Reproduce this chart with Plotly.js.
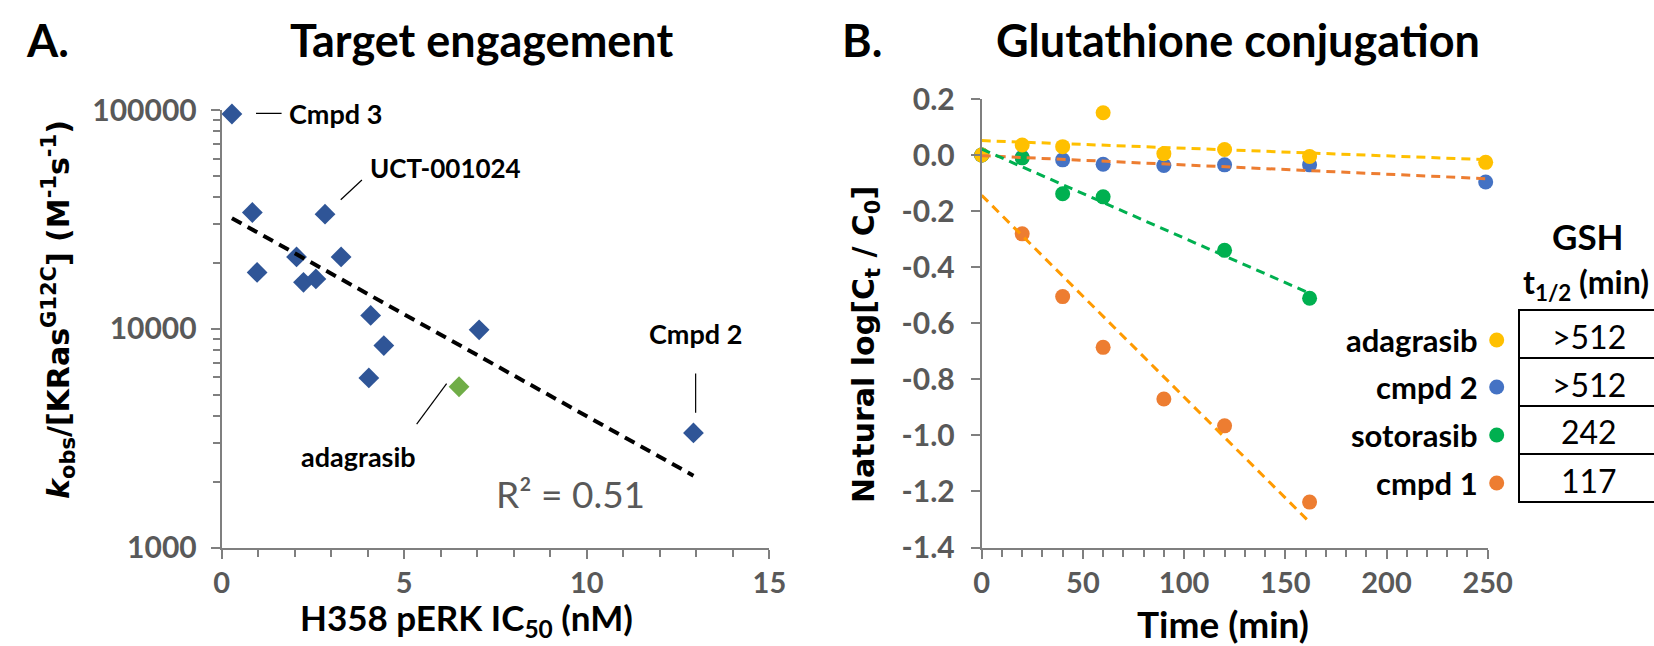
<!DOCTYPE html>
<html>
<head>
<meta charset="utf-8">
<script src="https://cdn.plot.ly/plotly-3.0.1.min.js"></script>
<style>
html,body{margin:0;padding:0;background:#fff;}
#chart{width:1654px;height:646px;}
</style>
</head>
<body>
<div id="chart"></div>
<script>
// ---------- Panel A data: target engagement ----------
const compoundIC50 = [0.28, 0.84, 0.97, 2.05, 2.24, 2.58, 2.83, 3.27, 4.08, 4.44, 4.03, 7.05, 12.92];
const compoundKobs = [95900, 34000, 18100, 21300, 16300, 16900, 33400, 21300, 11500, 8380, 5960, 9890, 3340];
const adagrasibIC50 = [6.5];
const adagrasibKobs = [5430];
const r2Label = 'R\u00b2 = 0.51';
const xTicksA = [0, 5, 10, 15];
const yTicksA = [1000, 10000, 100000];
const yMinorA = [2000, 3000, 4000, 5000, 6000, 7000, 8000, 9000, 20000, 30000, 40000, 50000, 60000, 70000, 80000, 90000];

// ---------- Panel B data: glutathione conjugation ----------
const seriesNames = ['adagrasib', 'cmpd 2', 'sotorasib', 'cmpd 1'];
const timeAdagrasib = [0, 20, 40, 60, 90, 120, 162, 249];
const lnAdagrasib = [0, 0.036, 0.030, 0.151, 0.005, 0.020, -0.005, -0.026];
const timeCmpd2 = [0, 20, 40, 60, 90, 120, 162, 249];
const lnCmpd2 = [0, -0.008, -0.017, -0.033, -0.037, -0.035, -0.035, -0.096];
const timeSotorasib = [0, 20, 40, 60, 120, 162];
const lnSotorasib = [0, -0.010, -0.138, -0.149, -0.340, -0.511];
const timeCmpd1 = [0, 20, 40, 60, 90, 120, 162];
const lnCmpd1 = [0, -0.281, -0.505, -0.686, -0.870, -0.966, -1.238];
const gshHalfLife = ['>512', '>512', '242', '117'];
const xTicksB = [0, 50, 100, 150, 200, 250];
const yTicksB = [0.2, 0.0, -0.2, -0.4, -0.6, -0.8, -1.0, -1.2, -1.4];

// ---------- styles ----------
const markerColors = ['#FFC000', '#4472C4', '#00B050', '#ED7D31'];
const trendColors = ['#FFC000', '#ED7D31', '#00B050', '#FF9A00'];
const FONT = 'Lato, sans-serif';
const AXFONT = 'DejaVu Sans, Verdana, sans-serif';
const GREY = '#595959';
const AXCOL = '#7F7F7F';
const W = 1654, H = 646;
const px = v => v / W, py = v => 1 - v / H;

function linFit(xs, ys) {
  const n = xs.length;
  let sx = 0, sy = 0, sxx = 0, sxy = 0;
  for (let i = 0; i < n; i++) { sx += xs[i]; sy += ys[i]; sxx += xs[i]*xs[i]; sxy += xs[i]*ys[i]; }
  const m = (n*sxy - sx*sy) / (n*sxx - sx*sx);
  return {m: m, b: (sy - m*sx)/n};
}

const traces = [];

// Panel A scatter
traces.push({
  x: compoundIC50, y: compoundKobs, xaxis: 'x', yaxis: 'y', type: 'scatter', mode: 'markers',
  marker: {symbol: 'diamond', size: 16, color: '#2F5597'}, cliponaxis: false, hoverinfo: 'skip'
});
traces.push({
  x: adagrasibIC50, y: adagrasibKobs, xaxis: 'x', yaxis: 'y', type: 'scatter', mode: 'markers',
  marker: {symbol: 'diamond', size: 16, color: '#70AD47'}, cliponaxis: false, hoverinfo: 'skip'
});
// exponential trendline (linear fit on log10 scale) over all compounds
(function() {
  const xs = compoundIC50.concat(adagrasibIC50);
  const ys = compoundKobs.concat(adagrasibKobs).map(v => Math.log10(v));
  const f = linFit(xs, ys);
  const x0 = Math.min.apply(null, xs), x1 = Math.max.apply(null, xs);
  traces.push({
    x: [x0, x1], y: [Math.pow(10, f.b + f.m*x0), Math.pow(10, f.b + f.m*x1)],
    xaxis: 'x', yaxis: 'y', type: 'scatter', mode: 'lines',
    line: {color: '#000', width: 4, dash: '11px,7px'}, hoverinfo: 'skip'
  });
})();

// Panel B scatter (Excel stacking order), trendlines on top
const bTimes = [timeAdagrasib, timeCmpd2, timeSotorasib, timeCmpd1];
const bVals = [lnAdagrasib, lnCmpd2, lnSotorasib, lnCmpd1];
[3, 1, 2, 0].forEach(i => {
  traces.push({
    x: bTimes[i], y: bVals[i], xaxis: 'x2', yaxis: 'y2', type: 'scatter', mode: 'markers',
    name: seriesNames[i], marker: {size: 15, color: markerColors[i]}, cliponaxis: false, hoverinfo: 'skip'
  });
});
[0, 1, 2, 3].forEach(i => {
  const f = linFit(bTimes[i], bVals[i]);
  const t0 = Math.min.apply(null, bTimes[i]), t1 = Math.max.apply(null, bTimes[i]);
  traces.push({
    x: [t0, t1], y: [f.b + f.m*t0, f.b + f.m*t1], xaxis: 'x2', yaxis: 'y2', type: 'scatter', mode: 'lines',
    line: {color: trendColors[i], width: 3, dash: '9px,6px'}, cliponaxis: false, hoverinfo: 'skip'
  });
});

const tickFontBold = (sz) => ({family: FONT, size: sz, color: GREY, weight: 'bold'});
const TITLE_SIZE = 45;

const annotations = [
  {text: '<b>A.</b>', xref: 'paper', yref: 'paper', x: px(47), y: py(40), showarrow: false, xanchor: 'center', yanchor: 'middle', font: {family: FONT, size: TITLE_SIZE, color: '#000'}},
  {text: '<b>Target engagement</b>', xref: 'paper', yref: 'paper', x: px(482), y: py(40), showarrow: false, xanchor: 'center', yanchor: 'middle', font: {family: FONT, size: TITLE_SIZE, color: '#000'}},
  {text: '<b>B.</b>', xref: 'paper', yref: 'paper', x: px(862), y: py(40), showarrow: false, xanchor: 'center', yanchor: 'middle', font: {family: FONT, size: TITLE_SIZE, color: '#000'}},
  {text: '<b>Glutathione conjugation</b>', xref: 'paper', yref: 'paper', x: px(1238), y: py(40), showarrow: false, xanchor: 'center', yanchor: 'middle', font: {family: FONT, size: TITLE_SIZE, color: '#000'}},
  // axis titles
  {text: '<b>H358 pERK IC<sub>50</sub> (nM)</b>', xref: 'paper', yref: 'paper', x: px(466), y: py(645), showarrow: false, xanchor: 'center', yanchor: 'bottom', font: {family: FONT, size: 35, color: '#000'}},
  {text: '<b>Time (min)</b>', xref: 'paper', yref: 'paper', x: px(1223), y: py(623), showarrow: false, xanchor: 'center', yanchor: 'middle', font: {family: FONT, size: 37, color: '#000'}},
  {text: '<b><i>k</i><sub>obs</sub>/[KRas<sup>G12C</sup>] (M<sup>-1</sup>s<sup>-1</sup>)</b>', xref: 'paper', yref: 'paper', x: px(58), y: py(310), textangle: -90, showarrow: false, xanchor: 'center', yanchor: 'middle', font: {family: AXFONT, size: 30, color: '#000'}},
  {text: '<b>Natural log[C<sub>t</sub> / C<sub>0</sub>]</b>', xref: 'paper', yref: 'paper', x: px(866), y: py(345), textangle: -90, showarrow: false, xanchor: 'center', yanchor: 'middle', font: {family: AXFONT, size: 30, color: '#000'}},
  // point labels panel A
  {text: '<b>Cmpd 3</b>', xref: 'x', yref: 'y', x: 1.80, y: 4.985, showarrow: false, xanchor: 'left', yanchor: 'middle', font: {family: FONT, size: 27, color: '#000'}},
  {text: '<b>UCT-001024</b>', xref: 'x', yref: 'y', x: 4.02, y: 4.733, showarrow: false, xanchor: 'left', yanchor: 'middle', font: {family: FONT, size: 26, color: '#000'}},
  {text: '<b>Cmpd 2</b>', xref: 'x', yref: 'y', x: 12.98, y: 3.979, showarrow: false, xanchor: 'center', yanchor: 'middle', font: {family: FONT, size: 27, color: '#000'}},
  {text: '<b>adagrasib</b>', xref: 'x', yref: 'y', x: 3.76, y: 3.415, showarrow: false, xanchor: 'center', yanchor: 'middle', font: {family: FONT, size: 27, color: '#000'}},
  {text: r2Label, xref: 'x', yref: 'y', x: 9.54, y: 3.249, showarrow: false, xanchor: 'center', yanchor: 'middle', font: {family: FONT, size: 37, color: GREY}},
  // table header
  {text: '<b>GSH</b>', xref: 'paper', yref: 'paper', x: px(1588), y: py(236), showarrow: false, xanchor: 'center', yanchor: 'middle', font: {family: FONT, size: 35, color: '#000'}},
  {text: '<b>t<sub>1/2</sub> (min)</b>', xref: 'paper', yref: 'paper', x: px(1586), y: py(284), showarrow: false, xanchor: 'center', yanchor: 'middle', font: {family: FONT, size: 32, color: '#000'}}
];

const shapes = [];
// legend labels for panel B (text left of marker) + GSH half-life table rows
const legendY = [340, 387, 435, 483];
const rowTop = 310, rowH = 48;
seriesNames.forEach((nm, i) => {
  annotations.push({text: '<b>' + nm + '</b>', xref: 'paper', yref: 'paper', x: px(1480), y: py(legendY[i]),
    showarrow: false, xanchor: 'right', yanchor: 'middle', font: {family: FONT, size: 31, color: '#000'}});
  shapes.push({type: 'circle', xref: 'paper', yref: 'paper', xsizemode: 'pixel', ysizemode: 'pixel',
    xanchor: px(1496.7), yanchor: py(legendY[i]), x0: -7.5, x1: 7.5, y0: -7.5, y1: 7.5,
    fillcolor: markerColors[i], line: {width: 0}});
  const t = rowTop + i*rowH;
  shapes.push({type: 'rect', xref: 'paper', yref: 'paper', x0: px(1519), x1: px(1700), y0: py(t), y1: py(t + rowH),
    line: {color: '#000', width: 2}, fillcolor: 'rgba(0,0,0,0)'});
  annotations.push({text: gshHalfLife[i], xref: 'paper', yref: 'paper', x: px(1589), y: py(t + rowH/2 + 2),
    showarrow: false, xanchor: 'center', yanchor: 'middle', font: {family: FONT, size: 32, color: '#000'}});
});

// leader lines panel A
const leaderStyle = {color: '#000', width: 1.2};
shapes.push({type: 'line', xref: 'x', yref: 'y', x0: 0.94, x1: 1.64, y0: Math.pow(10, 4.985), y1: Math.pow(10, 4.985), line: leaderStyle});
shapes.push({type: 'line', xref: 'x', yref: 'y', x0: 3.26, x1: 3.84, y0: Math.pow(10, 4.590), y1: Math.pow(10, 4.680), line: leaderStyle});
shapes.push({type: 'line', xref: 'x', yref: 'y', x0: 12.98, x1: 12.98, y0: Math.pow(10, 3.616), y1: Math.pow(10, 3.796), line: leaderStyle});
shapes.push({type: 'line', xref: 'x', yref: 'y', x0: 5.34, x1: 6.16, y0: Math.pow(10, 3.564), y1: Math.pow(10, 3.749), line: leaderStyle});

const axisCommon = {
  showgrid: false, zeroline: false, showline: true, linecolor: AXCOL, linewidth: 2,
  ticks: 'outside', ticklen: 9, tickwidth: 2, tickcolor: AXCOL,
  automargin: false, fixedrange: true
};

const layout = {
  width: W, height: H,
  margin: {l: 0, r: 0, t: 0, b: 0},
  paper_bgcolor: '#fff', plot_bgcolor: 'rgba(0,0,0,0)',
  showlegend: false,
  font: {family: FONT, color: '#000'},
  xaxis: Object.assign({}, axisCommon, {
    domain: [px(221.7), px(769.4)], range: [0, 15], anchor: 'y',
    tickvals: xTicksA, ticktext: xTicksA.map(String), tickfont: tickFontBold(29), ticklabelstandoff: 0,
    minor: {dtick: 1, ticks: 'outside', ticklen: 7, tickwidth: 2, tickcolor: AXCOL, showgrid: false}
  }),
  yaxis: Object.assign({}, axisCommon, {
    domain: [py(547.5), py(110)], type: 'log', range: [3, 5], anchor: 'x',
    tickvals: yTicksA, ticktext: yTicksA.map(String), tickfont: tickFontBold(30), ticklabelstandoff: 8,
    minor: {tickvals: yMinorA, ticks: 'outside', ticklen: 7, tickwidth: 2, tickcolor: AXCOL, showgrid: false}
  }),
  xaxis2: Object.assign({}, axisCommon, {
    domain: [px(981.7), px(1487.7)], range: [0, 250], anchor: 'y2',
    tickvals: xTicksB, ticktext: xTicksB.map(String), tickfont: tickFontBold(29), ticklabelstandoff: 0,
    minor: {dtick: 10, ticks: 'outside', ticklen: 7, tickwidth: 2, tickcolor: AXCOL, showgrid: false}
  }),
  yaxis2: Object.assign({}, axisCommon, {
    domain: [py(547.5), py(99)], range: [-1.4, 0.2], anchor: 'x2',
    tickvals: yTicksB, ticktext: yTicksB.map(v => v.toFixed(1)), tickfont: tickFontBold(30), ticklabelstandoff: 10
  }),
  annotations: annotations,
  shapes: shapes
};

Plotly.newPlot('chart', traces, layout, {staticPlot: true, displayModeBar: false});
</script>
</body>
</html>
